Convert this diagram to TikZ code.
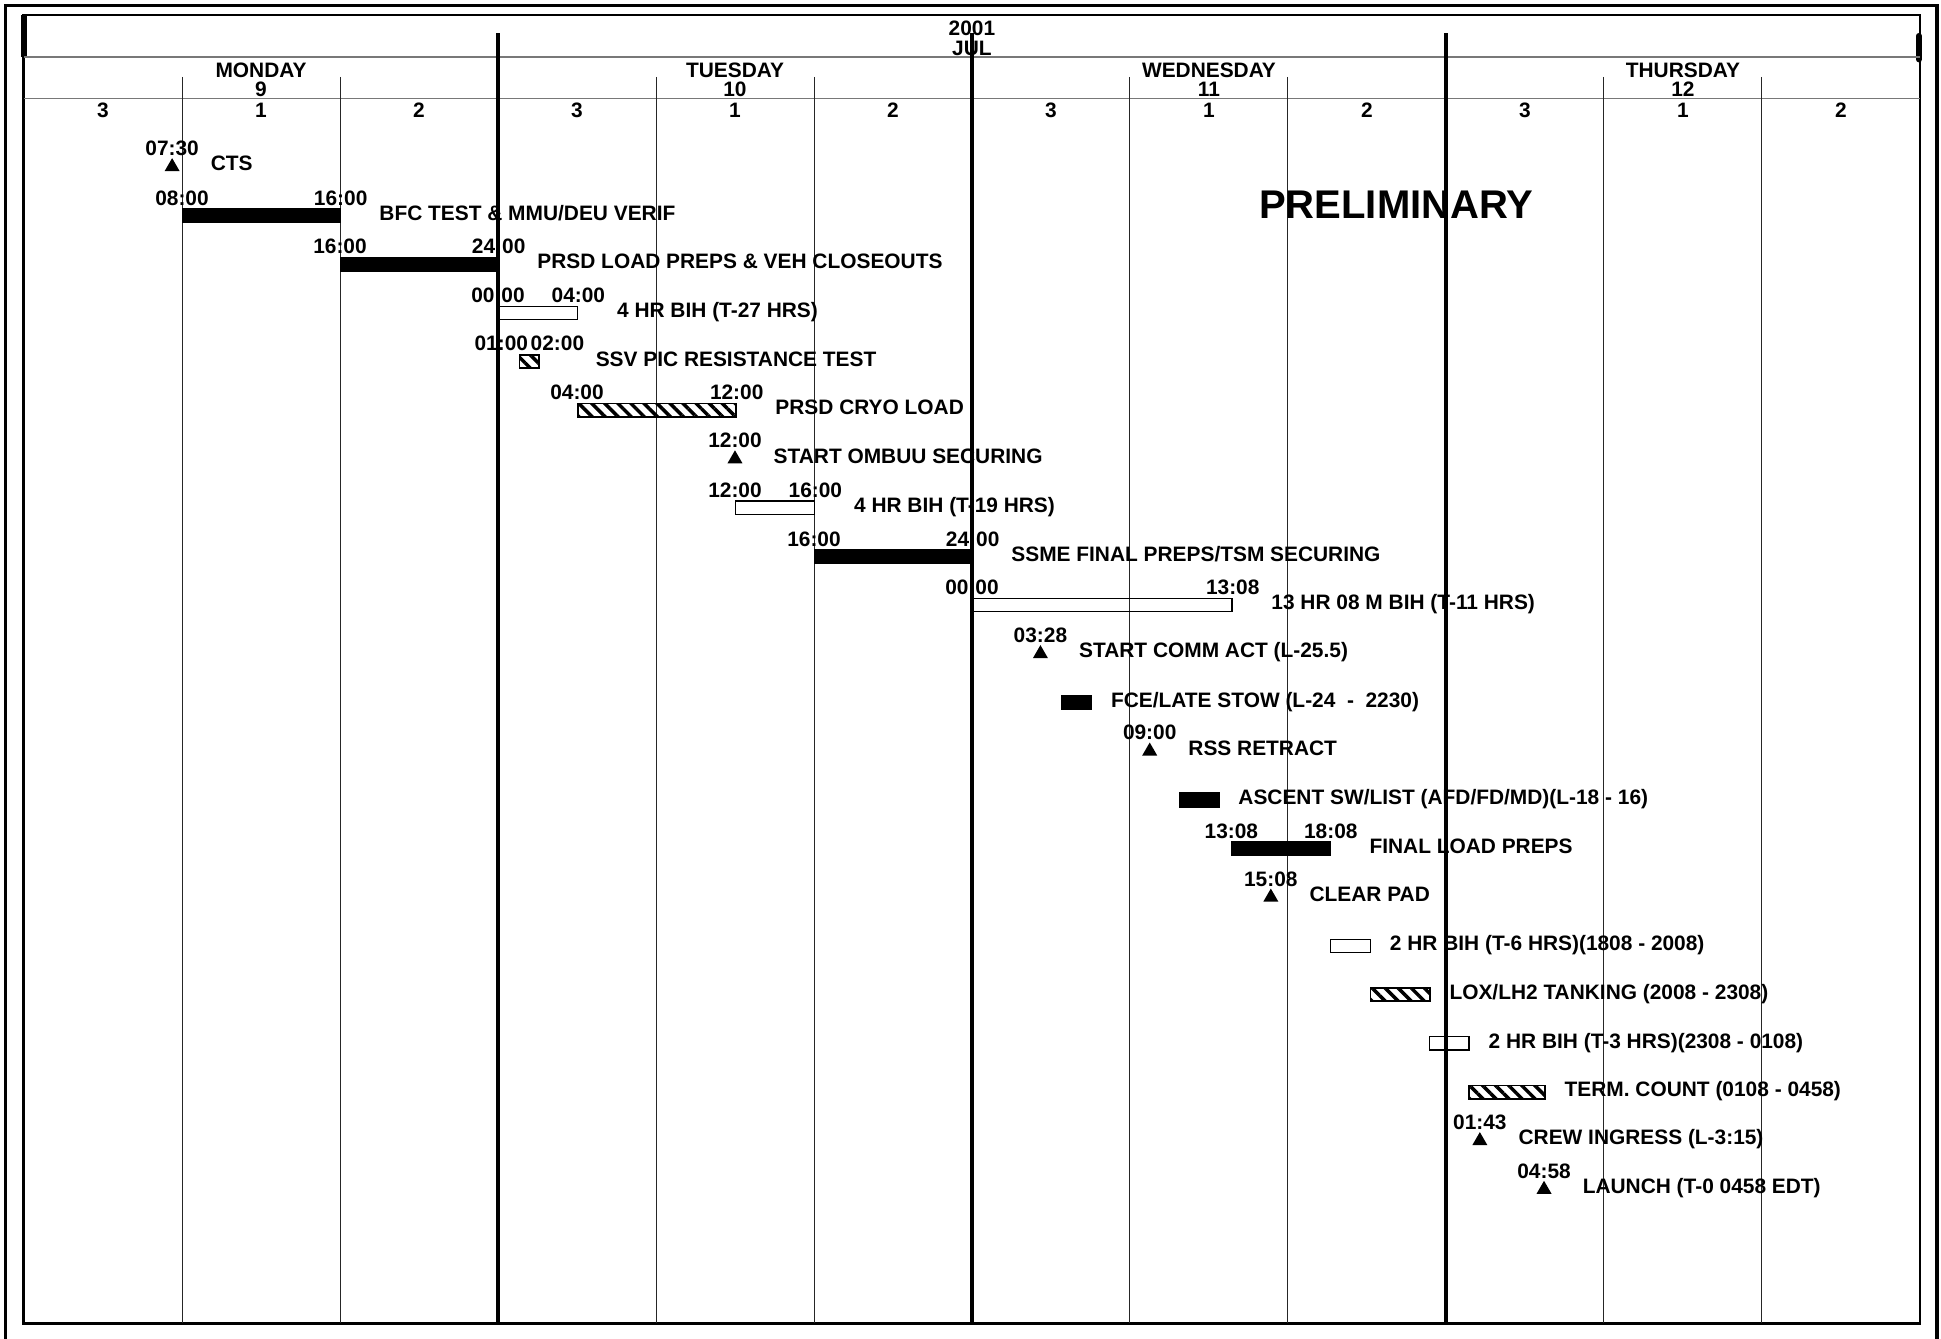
\documentclass[tikz,border=0pt]{standalone}
\usepackage{fontspec}
\setmainfont{Liberation Sans}
\usepackage{tikz}
\usetikzlibrary{positioning,shapes.geometric,patterns.meta}
\definecolor{gridgray}{RGB}{120,120,120}
\newcommand{\hrw}{0.39875cm}
\newcommand{\chartfont}{\bfseries\fontsize{12pt}{12pt}\selectfont}
\tikzstyle{txt} = [font=\chartfont, inner sep=0pt, text height=8.6pt, text depth=0pt]
\tikzstyle{timelab} = [txt]
\tikzstyle{tasklab} = [txt, anchor=west]
\tikzstyle{blackbar} = [rectangle, anchor=west, fill=black, draw=black, line width=0.4pt, minimum height=0.29cm, inner sep=0pt]
\tikzstyle{openbar} = [rectangle, anchor=west, draw=black, line width=0.8pt, minimum height=0.27cm, inner sep=0pt]
\tikzstyle{hatchbar} = [rectangle, anchor=west, draw=black, line width=1pt, minimum height=0.27cm, inner sep=0pt, pattern={Lines[angle=-45,distance=5.3pt,line width=2pt]}]
\tikzstyle{mstone} = [regular polygon, regular polygon sides=3, fill=black, minimum size=0.35cm, inner sep=0pt]
\tikzstyle{minorline} = [line width=0.55pt, color=black!85]
\tikzstyle{majorline} = [line width=1.8pt]
\tikzstyle{hdrline} = [line width=0.8pt, color=gridgray]

\begin{document}
\begin{tikzpicture}[x=0.025cm, y=-0.025cm]
\useasboundingbox (0,0) rectangle (1568,1081);

% Frames
\draw[line width=2.2pt] (4.5,4.5) rectangle (1565,1084);
\draw[line width=1.5pt] (19.2,12.1) rectangle (1551,1069);
\draw[line width=3.4pt] (19.4,12) -- (19.4,46);
\draw[line width=3.4pt, line cap=round] (1550.2,29) -- (1550.2,48);

% Calendar header and grid (x in hours)
\begin{scope}[shift={(0.485cm,0cm)}, x=\hrw]
\draw[hdrline] (0,46) -- (96,46);
\draw[hdrline] (0,79.5) -- (96,79.5);
\foreach \h in {8,16,32,40,56,64,80,88}
  \draw[minorline] (\h,62) -- (\h,1069);
\foreach \h in {24,48,72}
  \draw[majorline] (\h,27) -- (\h,1069);

\node[txt] (year) at (48,23) {2001};
\node[txt] (month) at (48,38.4) {JUL};
\foreach \d/\dname/\dnum in {0/MONDAY/9, 1/TUESDAY/10, 2/WEDNESDAY/11, 3/THURSDAY/12} {
  \node[txt] (day\d) at (24*\d+12,56.5) {\dname};
  \node[txt] (dnum\d) at (24*\d+12,72) {\dnum};
  \foreach \s/\shlab in {0/3, 1/1, 2/2}
    \node[txt] (shift\d\s) at (24*\d+8*\s+4,88.6) {\shlab};
}
\end{scope}

% Watermark
\node[font=\bfseries\fontsize{23pt}{23pt}\selectfont, inner sep=0pt] (prelim) at (1128,165) {PRELIMINARY};

% Tasks (x in hours from Monday 00:00, y in rows)
\begin{scope}[shift={(0.485cm,-3.3675cm)}, x=\hrw, y=-0.98325cm]
% CTS
\node[mstone] (cts) at (7.5,0) {};
\node[timelab, above=0.03cm of cts.north] (ctst) {07:30};
\node[tasklab, right=0.775cm of cts.center, yshift=0.0675cm] (ctsl) {CTS};

% BFC test
\node[blackbar, minimum width=8*\hrw] (bfc) at (8,1) {};
\node[timelab, above=0.05cm of bfc.north west] (bfcs) {08:00};
\node[timelab, above=0.05cm of bfc.north east] (bfce) {16:00};
\node[tasklab, right=0.775cm of bfc.east, yshift=0.0575cm] (bfcl) {BFC TEST \& MMU/DEU VERIF};

% PRSD load preps
\node[blackbar, minimum width=8*\hrw] (prsd) at (16,2) {};
\node[timelab, above=0.05cm of prsd.north west] (prsds) {16:00};
\node[timelab, above=0.05cm of prsd.north east] (prsde) {24:00};
\node[tasklab, right=0.775cm of prsd.east, yshift=0.0575cm] (prsdl) {PRSD LOAD PREPS \& VEH CLOSEOUTS};

% BIH T-27
\node[openbar, minimum width=4*\hrw] (bih27) at (24,3) {};
\node[timelab, above=0.05cm of bih27.north west] (bih27s) {00:00};
\node[timelab, above=0.05cm of bih27.north east] (bih27e) {04:00};
\node[tasklab, right=0.775cm of bih27.east, yshift=0.0575cm] (bih27l) {4 HR BIH (T-27 HRS)};

% SSV PIC
\node[hatchbar, minimum width=1*\hrw] (ssv) at (25,4) {};
\node[timelab, above left=0.05cm and 0.02cm of ssv.north] (ssvs) {01:00};
\node[timelab, above right=0.05cm and 0.02cm of ssv.north] (ssve) {02:00};
\node[tasklab, right=1.1cm of ssv.east, yshift=0.0575cm] (ssvl) {SSV PIC RESISTANCE TEST};

% PRSD cryo load
\node[hatchbar, minimum width=8*\hrw] (cryo) at (28,5) {};
\node[timelab, above=0.05cm of cryo.north west] (cryos) {04:00};
\node[timelab, above=0.05cm of cryo.north east] (cryoe) {12:00};
\node[tasklab, right=0.775cm of cryo.east, yshift=0.0575cm] (cryol) {PRSD CRYO LOAD};

% OMBUU
\node[mstone] (ombuu) at (36,6) {};
\node[timelab, above=0.03cm of ombuu.north] (ombuut) {12:00};
\node[tasklab, right=0.775cm of ombuu.center, yshift=0.0675cm] (ombuul) {START OMBUU SECURING};

% BIH T-19
\node[openbar, minimum width=4*\hrw] (bih19) at (36,7) {};
\node[timelab, above=0.05cm of bih19.north west] (bih19s) {12:00};
\node[timelab, above=0.05cm of bih19.north east] (bih19e) {16:00};
\node[tasklab, right=0.775cm of bih19.east, yshift=0.0575cm] (bih19l) {4 HR BIH (T-19 HRS)};

% SSME
\node[blackbar, minimum width=8*\hrw] (ssme) at (40,8) {};
\node[timelab, above=0.05cm of ssme.north west] (ssmes) {16:00};
\node[timelab, above=0.05cm of ssme.north east] (ssmee) {24:00};
\node[tasklab, right=0.775cm of ssme.east, yshift=0.0575cm] (ssmel) {SSME FINAL PREPS/TSM SECURING};

% BIH T-11
\node[openbar, minimum width=13.1333*\hrw] (bih11) at (48,9) {};
\node[timelab, above=0.05cm of bih11.north west] (bih11s) {00:00};
\node[timelab, above=0.05cm of bih11.north east] (bih11e) {13:08};
\node[tasklab, right=0.775cm of bih11.east, yshift=0.0575cm] (bih11l) {13 HR 08 M BIH (T-11 HRS)};

% Comm act
\node[mstone] (comm) at (51.4667,10) {};
\node[timelab, above=0.03cm of comm.north] (commt) {03:28};
\node[tasklab, right=0.775cm of comm.center, yshift=0.0675cm] (comml) {START COMM ACT (L-25.5)};

% FCE
\node[blackbar, minimum width=1.55*\hrw] (fce) at (52.5,11) {};
\node[tasklab, right=0.375cm of fce.east, yshift=0.0575cm] (fcel) {FCE/LATE STOW (L-24\ \ -\ \ 2230)};

% RSS
\node[mstone] (rss) at (57,12) {};
\node[timelab, above=0.03cm of rss.north] (rsst) {09:00};
\node[tasklab, right=0.775cm of rss.center, yshift=0.0675cm] (rssl) {RSS RETRACT};

% Ascent SW
\node[blackbar, minimum width=2*\hrw] (asc) at (58.5,13) {};
\node[tasklab, right=0.375cm of asc.east, yshift=0.0575cm] (ascl) {ASCENT SW/LIST (AFD/FD/MD)(L-18 - 16)};

% Final load preps
\node[blackbar, minimum width=5*\hrw] (flp) at (61.1333,14) {};
\node[timelab, above=0.05cm of flp.north west] (flps) {13:08};
\node[timelab, above=0.05cm of flp.north east] (flpe) {18:08};
\node[tasklab, right=0.775cm of flp.east, yshift=0.0575cm] (flpl) {FINAL LOAD PREPS};

% Clear pad
\node[mstone] (clr) at (63.1333,15) {};
\node[timelab, above=0.03cm of clr.north] (clrt) {15:08};
\node[tasklab, right=0.775cm of clr.center, yshift=0.0675cm] (clrl) {CLEAR PAD};

% BIH T-6
\node[openbar, minimum width=2*\hrw] (bih6) at (66.1333,16) {};
\node[tasklab, right=0.375cm of bih6.east, yshift=0.0575cm] (bih6l) {2 HR BIH (T-6 HRS)(1808 - 2008)};

% Tanking
\node[hatchbar, minimum width=3*\hrw] (tank) at (68.1333,17) {};
\node[tasklab, right=0.375cm of tank.east, yshift=0.0575cm] (tankl) {LOX/LH2 TANKING (2008 - 2308)};

% BIH T-3
\node[openbar, minimum width=2*\hrw] (bih3) at (71.1333,18) {};
\node[tasklab, right=0.375cm of bih3.east, yshift=0.0575cm] (bih3l) {2 HR BIH (T-3 HRS)(2308 - 0108)};

% Terminal count
\node[hatchbar, minimum width=3.8333*\hrw] (term) at (73.1333,19) {};
\node[tasklab, right=0.375cm of term.east, yshift=0.0575cm] (terml) {TERM. COUNT (0108 - 0458)};

% Crew ingress
\node[mstone] (crew) at (73.7167,20) {};
\node[timelab, above=0.03cm of crew.north] (crewt) {01:43};
\node[tasklab, right=0.775cm of crew.center, yshift=0.0675cm] (crewl) {CREW INGRESS (L-3:15)};

% Launch
\node[mstone] (lnch) at (76.9667,21) {};
\node[timelab, above=0.03cm of lnch.north] (lncht) {04:58};
\node[tasklab, right=0.775cm of lnch.center, yshift=0.0675cm] (lnchl) {LAUNCH (T-0 0458 EDT)};
\end{scope}
\end{tikzpicture}
\end{document}
